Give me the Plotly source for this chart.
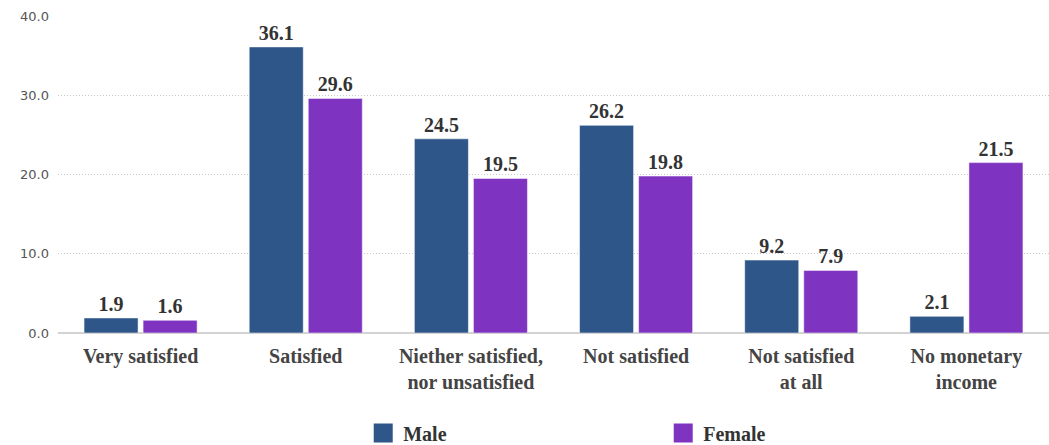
import plotly.graph_objects as go

categories = ["Very satisfied", "Satisfied", "Niether satisfied,<br>nor unsatisfied",
              "Not satisfied", "Not satisfied<br>at all", "No monetary<br>income"]
male = [1.9, 36.1, 24.5, 26.2, 9.2, 2.1]
female = [1.6, 29.6, 19.5, 19.8, 7.9, 21.5]
y_ticks = [0, 10, 20, 30, 40]

MALE_C = "#2e5688"
FEMALE_C = "#7e33c1"
SERIF = "Liberation Serif"

fig = go.Figure()
for name, vals, col in [("Male", male, MALE_C), ("Female", female, FEMALE_C)]:
    fig.add_trace(go.Bar(
        x=categories, y=vals, name=name, marker=dict(color=col, line=dict(color="rgba(255,255,255,0.5)", width=1)),
        texttemplate="%{y:.1f}", textposition="outside", cliponaxis=False,
        textfont=dict(family=SERIF, size=20, color="#333333", weight="bold"),
        showlegend=False,
    ))
    fig.add_trace(go.Scatter(
        x=[None], y=[None], mode="markers", name=name,
        marker=dict(symbol="square", size=16, color=col, line=dict(color=col, width=3)),
    ))

fig.update_layout(
    width=1049, height=445,
    margin=dict(l=58, r=0, t=16, b=112, autoexpand=False),
    paper_bgcolor="white", plot_bgcolor="white",
    barmode="group", bargap=0.285, bargroupgap=0.085,
    legend=dict(orientation="h", x=0.308, y=0.027, yref="container", xanchor="left", yanchor="middle",
                entrywidth=255, entrywidthmode="pixels", itemsizing="trace",
                font=dict(family=SERIF, size=20, color="#333333", weight="bold")),
    font=dict(family=SERIF),
)
fig.update_xaxes(
    tickfont=dict(family=SERIF, size=20, color="#444444", weight="bold"),
    showgrid=False, ticks="", showline=False, ticklabelstandoff=9,
)
fig.update_yaxes(
    range=[0, 40], tickvals=y_ticks, tickformat=".1f",
    tickfont=dict(family="DejaVu Sans", size=13, color="#555555"),
    showgrid=True, gridcolor="#c8c8c8", griddash="1px,2px", gridwidth=1,
    zeroline=True, zerolinecolor="#d3d3d3", zerolinewidth=2,
    ticklabelstandoff=8,
)

fig.write_html("out.html")
